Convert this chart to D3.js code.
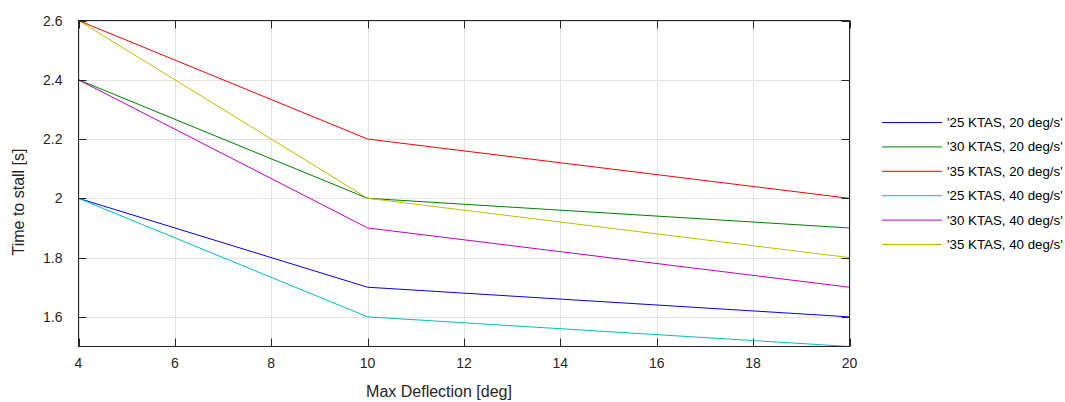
<!DOCTYPE html>
<html>
<head>
<meta charset="utf-8">
<script src="https://cdn.jsdelivr.net/npm/d3@7"></script>
<style>
  body { margin: 0; background: #fff; }
  svg { font-family: "Liberation Sans", Arial, sans-serif; }
</style>
</head>
<body>
<svg id="chart" width="1065" height="402"></svg>
<script>
"use strict";

var deflection = [4, 10, 20];
var seriesNames = ["'25 KTAS, 20 deg/s'", "'30 KTAS, 20 deg/s'", "'35 KTAS, 20 deg/s'",
                   "'25 KTAS, 40 deg/s'", "'30 KTAS, 40 deg/s'", "'35 KTAS, 40 deg/s'"];
var seriesColors = ["#0000ff", "#008000", "#ff0000", "#00bfbf", "#bf00bf", "#bfbf00"];
var kt25deg20 = [2.0, 1.7, 1.6];
var kt30deg20 = [2.4, 2.0, 1.9];
var kt35deg20 = [2.6, 2.2, 2.0];
var kt25deg40 = [2.0, 1.6, 1.5];
var kt30deg40 = [2.4, 1.9, 1.7];
var kt35deg40 = [2.6, 2.0, 1.8];
var xTicks = [4, 6, 8, 10, 12, 14, 16, 18, 20];
var yTicks = [1.6, 1.8, 2, 2.2, 2.4, 2.6];

var allValues = [kt25deg20, kt30deg20, kt35deg20, kt25deg40, kt30deg40, kt35deg40];
var sources = seriesNames.map(function(name, i) {
  return {
    name: name,
    color: seriesColors[i],
    points: deflection.map(function(x, j) { return { x: x, y: allValues[i][j] }; })
  };
});

var svg = d3.select("#chart");
var plotLeft = 78.5, plotRight = 849.5, plotTop = 20.5, plotBottom = 346.5;

var x = d3.scaleLinear().domain([4, 20]).range([plotLeft, plotRight]);
var y = d3.scaleLinear().domain([1.5, 2.6]).range([plotBottom, plotTop]);

// grid
var grid = svg.append("g").attr("stroke", "#e3e3e3").attr("stroke-width", 1);
grid.selectAll("line.gx").data(xTicks).enter().append("line")
  .attr("x1", function(d) { return Math.round(x(d)) + 0.5; })
  .attr("x2", function(d) { return Math.round(x(d)) + 0.5; })
  .attr("y1", plotTop).attr("y2", plotBottom);
grid.selectAll("line.gy").data(yTicks).enter().append("line")
  .attr("y1", function(d) { return Math.round(y(d)) + 0.5; })
  .attr("y2", function(d) { return Math.round(y(d)) + 0.5; })
  .attr("x1", plotLeft).attr("x2", plotRight);

// lines
var line = d3.line()
  .x(function(d) { return x(d.x); })
  .y(function(d) { return y(d.y); });

svg.append("g").selectAll("path")
  .data(sources)
  .enter()
  .append("path")
  .attr("d", function(s) { return line(s.points); })
  .attr("fill", "none")
  .attr("stroke", function(s) { return s.color; })
  .attr("stroke-width", 1);

// frame + inward ticks
var frame = svg.append("g").attr("stroke", "#262626").attr("stroke-width", 1).attr("fill", "none");
frame.append("rect")
  .attr("x", plotLeft).attr("y", plotTop)
  .attr("width", plotRight - plotLeft).attr("height", plotBottom - plotTop);
var tickLen = 8;
xTicks.forEach(function(d) {
  var px = Math.round(x(d)) + 0.5;
  frame.append("line").attr("x1", px).attr("x2", px).attr("y1", plotBottom).attr("y2", plotBottom - tickLen);
  frame.append("line").attr("x1", px).attr("x2", px).attr("y1", plotTop).attr("y2", plotTop + tickLen);
});
yTicks.forEach(function(d) {
  var py = Math.round(y(d)) + 0.5;
  frame.append("line").attr("y1", py).attr("y2", py).attr("x1", plotLeft).attr("x2", plotLeft + tickLen);
  frame.append("line").attr("y1", py).attr("y2", py).attr("x1", plotRight).attr("x2", plotRight - tickLen);
});

// tick labels
svg.append("g").selectAll("text")
  .data(xTicks)
  .enter()
  .append("text")
  .attr("x", function(d) { return x(d); })
  .attr("y", plotBottom + 21.5)
  .attr("text-anchor", "middle")
  .style("font-size", "14px")
  .attr("fill", "#262626")
  .text(function(d) { return d; });

svg.append("g").selectAll("text")
  .data(yTicks)
  .enter()
  .append("text")
  .attr("x", plotLeft - 16)
  .attr("y", function(d) { return y(d) + 5; })
  .attr("text-anchor", "end")
  .style("font-size", "14px")
  .attr("fill", "#262626")
  .text(function(d) { return d3.format("~g")(d); });

// axis titles
svg.append("text")
  .attr("x", 439)
  .attr("y", 397)
  .attr("text-anchor", "middle")
  .style("font-size", "16px")
  .attr("fill", "#262626")
  .text("Max Deflection [deg]");

svg.append("text")
  .attr("transform", "translate(24,202) rotate(-90)")
  .attr("text-anchor", "middle")
  .style("font-size", "16px")
  .attr("fill", "#262626")
  .text("Time to stall [s]");

// legend
var legend = svg.append("g")
  .attr("class", "legend")
  .attr("transform", "translate(882,122)")
  .style("font-size", "13.3px");

legend.selectAll("line")
  .data(sources)
  .enter()
  .append("line")
  .attr("x1", 0).attr("x2", 60)
  .attr("y1", function(s, i) { return i * 24.4 + 0.5; })
  .attr("y2", function(s, i) { return i * 24.4 + 0.5; })
  .attr("stroke", function(s) { return s.color; })
  .attr("stroke-width", 1);

legend.selectAll("text")
  .data(sources)
  .enter()
  .append("text")
  .attr("x", 65)
  .attr("y", function(s, i) { return i * 24.4 + 5; })
  .attr("fill", "#000")
  .text(function(s) { return s.name; });
</script>
</body>
</html>
